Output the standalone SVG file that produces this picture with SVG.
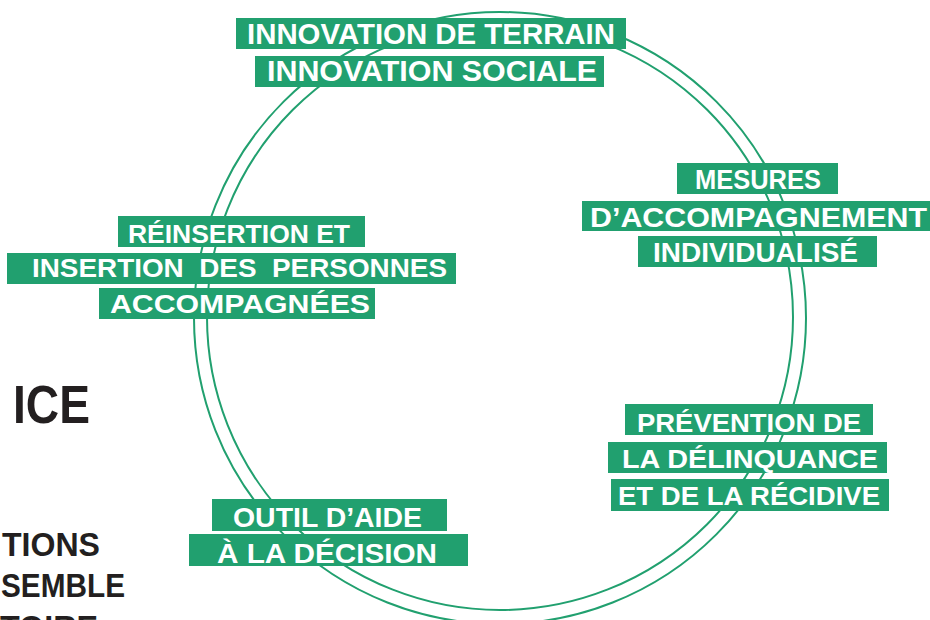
<svg xmlns="http://www.w3.org/2000/svg" width="930" height="620" viewBox="0 0 930 620">
  <style>
    .ring { fill: none; stroke: #21a06f; stroke-width: 2; }
    .box { fill: #21a06f; }
    .lbl { font-family: "Liberation Sans", Arial, sans-serif; font-weight: bold; fill: #ffffff; white-space: pre; }
    .dark { font-family: "Liberation Sans", Arial, sans-serif; font-weight: bold; fill: #231f20; }
  </style>
  <rect width="930" height="620" fill="#ffffff"/>

  <g id="connectors">
    <circle class="ring" cx="500" cy="318" r="306"/>
    <circle class="ring" cx="500" cy="317" r="293"/>
  </g>

  <g id="side-text">
    <text class="dark" x="13" y="423" font-size="53" textLength="77" lengthAdjust="spacingAndGlyphs">ICE</text>
    <text class="dark" x="2" y="556" font-size="33" textLength="98" lengthAdjust="spacingAndGlyphs">TIONS</text>
    <text class="dark" x="1" y="597" font-size="33" textLength="124" lengthAdjust="spacingAndGlyphs">SEMBLE</text>
    <text class="dark" x="0" y="639" font-size="33" textLength="98" lengthAdjust="spacingAndGlyphs">TOIRE</text>
  </g>

  <g id="node-innovation">
    <rect class="box" x="236" y="18" width="390" height="31"/>
    <rect class="box" x="255" y="56" width="349" height="31"/>
    <text class="lbl" x="247" y="44" font-size="29" textLength="368" lengthAdjust="spacingAndGlyphs">INNOVATION DE TERRAIN</text>
    <text class="lbl" x="267" y="81" font-size="29" textLength="330" lengthAdjust="spacingAndGlyphs">INNOVATION SOCIALE</text>
  </g>

  <g id="node-mesures">
    <rect class="box" x="677" y="163" width="161" height="31"/>
    <rect class="box" x="582" y="201" width="350" height="30"/>
    <rect class="box" x="638" y="236" width="239" height="31"/>
    <text class="lbl" x="695" y="189" font-size="27" textLength="126" lengthAdjust="spacingAndGlyphs">MESURES</text>
    <text class="lbl" x="590" y="227" font-size="27" textLength="337" lengthAdjust="spacingAndGlyphs">D’ACCOMPAGNEMENT</text>
    <text class="lbl" x="653" y="262" font-size="27" textLength="205" lengthAdjust="spacingAndGlyphs">INDIVIDUALISÉ</text>
  </g>

  <g id="node-prevention">
    <rect class="box" x="625" y="404" width="248" height="31"/>
    <rect class="box" x="608" y="442" width="279" height="31"/>
    <rect class="box" x="611" y="479" width="278" height="32"/>
    <text class="lbl" x="637" y="432" font-size="26" textLength="224" lengthAdjust="spacingAndGlyphs">PRÉVENTION DE</text>
    <text class="lbl" x="622" y="468" font-size="26" textLength="256" lengthAdjust="spacingAndGlyphs">LA DÉLINQUANCE</text>
    <text class="lbl" x="618" y="505" font-size="26" textLength="262" lengthAdjust="spacingAndGlyphs">ET DE LA RÉCIDIVE</text>
  </g>

  <g id="node-outil">
    <rect class="box" x="212" y="499" width="235" height="32"/>
    <rect class="box" x="189" y="534" width="279" height="32"/>
    <text class="lbl" x="233" y="527" font-size="28" textLength="189" lengthAdjust="spacingAndGlyphs">OUTIL D’AIDE</text>
    <text class="lbl" x="217" y="563" font-size="28" textLength="220" lengthAdjust="spacingAndGlyphs">À LA DÉCISION</text>
  </g>

  <g id="node-reinsertion">
    <rect class="box" x="118" y="216" width="247" height="31"/>
    <rect class="box" x="7" y="253" width="449" height="31"/>
    <rect class="box" x="99" y="288" width="276" height="31"/>
    <text class="lbl" x="128" y="243" font-size="25" textLength="222" lengthAdjust="spacingAndGlyphs">RÉINSERTION ET</text>
    <text class="lbl" x="32" y="277" font-size="25" textLength="415" lengthAdjust="spacingAndGlyphs">INSERTION  DES  PERSONNES</text>
    <text class="lbl" x="110" y="313" font-size="25" textLength="260" lengthAdjust="spacingAndGlyphs">ACCOMPAGNÉES</text>
  </g>
</svg>
